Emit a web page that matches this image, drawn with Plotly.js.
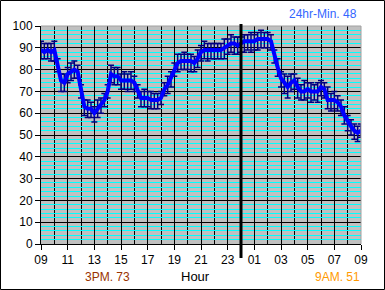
<!DOCTYPE html>
<html>
<head>
<meta charset="utf-8">
<script src="https://cdn.plot.ly/plotly-3.0.1.min.js"></script>
<style>
html,body{margin:0;padding:0;background:#fff;}
#chart{width:385px;height:290px;}
</style>
</head>
<body>
<div id="chart"></div>
<script>
// Hours since 09:00 (15-minute readings)
const hours = [0,0.25,0.5,0.75,1,1.25,1.5,1.75,2,2.25,2.5,2.75,3,3.25,3.5,3.75,4,4.25,4.5,4.75,5,5.25,5.5,5.75,6,6.25,6.5,6.75,7,7.25,7.5,7.75,8,8.25,8.5,8.75,9,9.25,9.5,9.75,10,10.25,10.5,10.75,11,11.25,11.5,11.75,12,12.25,12.5,12.75,13,13.25,13.5,13.75,14,14.25,14.5,14.75,15,15.25,15.5,15.75,16,16.25,16.5,16.75,17,17.25,17.5,17.75,18,18.25,18.5,18.75,19,19.25,19.5,19.75,20,20.25,20.5,20.75,21,21.25,21.5,21.75,22,22.25,22.5,22.75,23,23.25,23.5,23.75,24];
const temps = [89,88,89,88,89,82,75,74,78,79,80,79,70,63,62,62,60,62,64,66,70,78,77,77,75,75,75,75,74,70,67,67,67,66,66,66,67,71,73,76,80,83,84,84,84,84,83,85,88,89,89,89,89,89,89,90,91,92,92,91,92,93,93,93,93,94,94,94,94,93,86,81,76,74,72,74,75,72,70,70,71,70,70,70,72,71,66,66,66,65,63,59,56,54,52,51,52];
const errUp = [4,4,3,4,4,3,3,4,3,4,4,3,3,3,4,3,3,4,3,3,3,4,4,4,3,4,3,4,3,3,3,4,3,4,3,3,3,3,4,3,3,4,3,4,3,3,3,4,3,4,3,3,3,3,3,4,3,4,3,4,3,3,3,4,3,3,4,3,3,3,3,4,3,4,5,4,3,4,3,5,3,4,3,4,3,3,6,3,4,3,3,4,3,3,3,3,3];
const errDown = [4,3,4,4,5,3,5,4,4,4,4,3,3,4,4,4,4,4,4,3,3,4,4,4,4,4,5,4,4,3,4,4,4,4,4,4,3,3,4,4,3,4,4,4,4,5,4,4,4,4,5,4,4,4,4,5,4,4,5,4,4,5,4,5,4,5,4,4,4,4,3,4,4,5,5,4,4,5,4,4,4,5,4,5,4,4,4,5,4,4,4,4,4,4,4,4,3];
const tickHours = [0,2,4,6,8,10,12,14,16,18,20,22,24];
const tickLabels = ["09","11","13","15","17","19","21","23","01","03","05","07","09"];
const midnight = 15;

const FONT = "Liberation Sans, Arial, sans-serif";
const L = 41, R = 361, T = 26, B = 244;
const px = x => (x - L) / (R - L);
const py = y => (B - y) / (B - T);

const trace = {
  x: hours, y: temps, type: 'scatter', mode: 'lines',
  line: {color: '#0000ff', width: 4},
  error_y: {type: 'data', symmetric: false, array: errUp, arrayminus: errDown,
            color: '#000080', thickness: 1.5, width: 3},
  hoverinfo: 'skip'
};

const layout = {
  width: 385, height: 290,
  margin: {l: L, r: 385 - R, t: T, b: 290 - B, pad: 0},
  paper_bgcolor: '#ffffff', plot_bgcolor: '#c0c0c0',
  showlegend: false,
  font: {family: FONT, size: 12, color: '#000'},
  xaxis: {
    range: [0, 24], tickmode: 'array', tickvals: tickHours, ticktext: tickLabels,
    ticks: 'outside', ticklen: 5, tickcolor: '#000', tickwidth: 1,
    showgrid: true, gridcolor: '#000', gridwidth: 1,
    minor: {dtick: 1, showgrid: true, gridcolor: '#000', gridwidth: 1, ticks: ''},
    showline: true, linecolor: '#000', linewidth: 1,
    zeroline: false, fixedrange: true,
    tickfont: {family: FONT, size: 12, color: '#000'}
  },
  yaxis: {
    range: [0, 100], dtick: 10, tick0: 0,
    ticks: 'outside', ticklen: 5, tickcolor: '#000', tickwidth: 1,
    showgrid: true, gridcolor: '#000', gridwidth: 1,
    minor: {dtick: 2, showgrid: true, gridcolor: '#00ffff', gridwidth: 1, ticks: ''},
    showline: true, linecolor: '#000', linewidth: 1,
    zeroline: false, fixedrange: true,
    tickfont: {family: FONT, size: 12, color: '#000'}
  },
  shapes: [
    {type: 'line', xref: 'paper', yref: 'paper', x0: 0, x1: 1, y0: 1, y1: 1, line: {color: '#a0a0a0', width: 1}},
    {type: 'line', xref: 'paper', yref: 'paper', x0: 1, x1: 1, y0: 0, y1: 1, line: {color: '#a0a0a0', width: 1}},
    {type: 'line', xref: 'x', yref: 'paper', x0: midnight, x1: midnight, y0: py(258), y1: py(24), line: {color: '#000', width: 3}},
    {type: 'rect', xref: 'paper', yref: 'paper', x0: px(0.5), x1: px(384.5), y0: py(289.5), y1: py(0.5), line: {color: '#000', width: 1}, fillcolor: 'rgba(0,0,0,0)'}
  ],
  annotations: [
    {text: '24hr-Min. 48', xref: 'paper', yref: 'paper', x: px(359), y: py(14), xanchor: 'right', yanchor: 'middle', showarrow: false, font: {family: FONT, size: 12, color: '#3366ff'}},
    {text: '3PM. 73', xref: 'paper', yref: 'paper', x: px(107), y: py(277), xanchor: 'center', yanchor: 'middle', showarrow: false, font: {family: FONT, size: 12, color: '#993300'}},
    {text: 'Hour', xref: 'paper', yref: 'paper', x: px(195), y: py(276), xanchor: 'center', yanchor: 'middle', showarrow: false, font: {family: FONT, size: 13, color: '#000'}},
    {text: '9AM. 51', xref: 'paper', yref: 'paper', x: px(362), y: py(277), xanchor: 'right', yanchor: 'middle', showarrow: false, font: {family: FONT, size: 12, color: '#ff9900'}}
  ]
};

Plotly.newPlot('chart', [trace], layout, {displayModeBar: false, staticPlot: true});
</script>
</body>
</html>
